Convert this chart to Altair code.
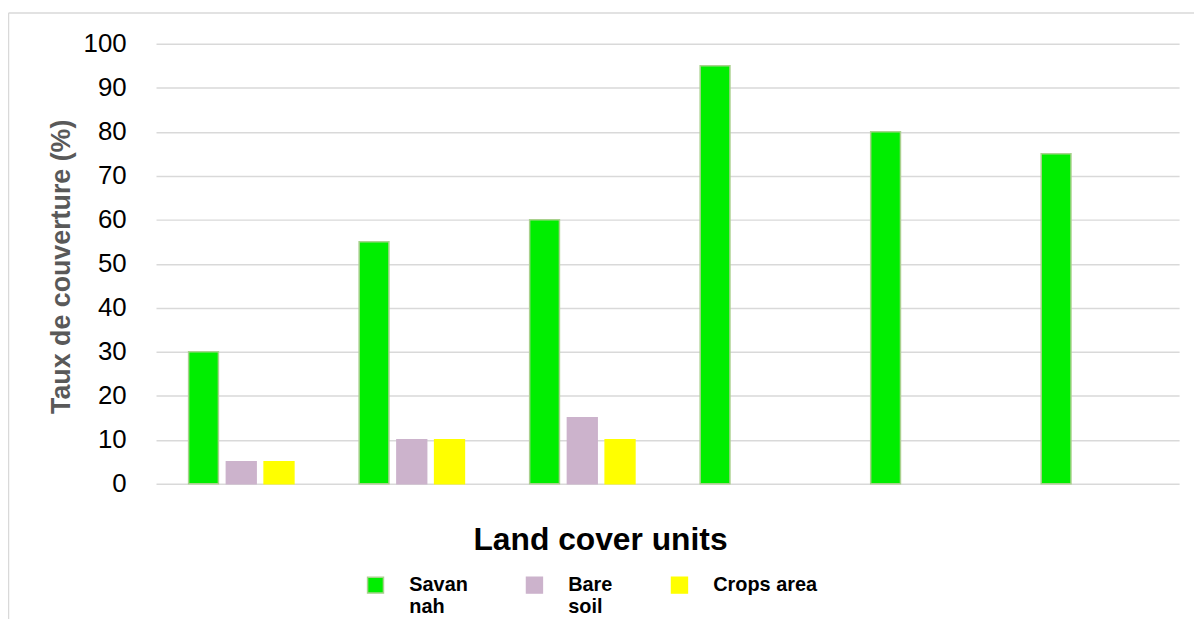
import altair as alt
import pandas as pd

units = ["Unit 1", "Unit 2", "Unit 3", "Unit 4", "Unit 5", "Unit 6"]
series = ["Savannah", "Bare soil", "Crops area"]
savannah = [30, 55, 60, 95, 80, 75]
bare_soil = [5, 10, 15, 0, 0, 0]
crops_area = [5, 10, 10, 0, 0, 0]
fill_colors = ["#00ee00", "#ccb3cc", "#ffff00"]
stroke_colors = ["#a9d18e", "#ccb3cc", "#ffff00"]
y_ticks = list(range(0, 101, 10))

rows = []
for s, vals in zip(series, [savannah, bare_soil, crops_area]):
    for u, v in zip(units, vals):
        if v > 0:
            rows.append({"unit": u, "series": s, "value": v})
df = pd.DataFrame(rows)

W, H = 1030, 443
PAD_L, PAD_T = 149, 34

legend = alt.Legend(
    orient="none", legendX=211, legendY=535, direction="horizontal", title=None,
    symbolType="square", symbolSize=256, symbolStrokeWidth=1.5,
    labelFont="Liberation Sans", labelFontSize=20, labelFontWeight="bold",
    labelColor="#000000", labelOffset=24, columnPadding=56, padding=0,
    labelBaseline="middle", labelLimit=300,
    labelExpr="datum.label == 'Savannah' ? ['Savan', 'nah'] : datum.label == 'Bare soil' ? ['Bare', 'soil'] : ['Crops area', ' ']",
)

bars = alt.Chart(df).mark_bar(strokeWidth=1.5).encode(
    x=alt.X(
        "unit:N", sort=units,
        scale=alt.Scale(domain=units, paddingInner=0.336, paddingOuter=0.168),
        axis=alt.Axis(
            labels=False, ticks=False, domain=False, grid=False,
            title="Land cover units", titleFont="Liberation Sans", titleFontSize=32,
            titleFontWeight="bold", titleColor="#000000", titleX=447, titleY=66,
            titleAlign="center", titleBaseline="alphabetic",
        ),
    ),
    xOffset=alt.XOffset(
        "series:N", sort=series,
        scale=alt.Scale(domain=series, paddingInner=0.2105, paddingOuter=0.105),
    ),
    y=alt.Y(
        "value:Q",
        scale=alt.Scale(domain=[0, 100], nice=False),
        axis=alt.Axis(
            values=y_ticks, grid=True, gridColor="#d9d9d9", gridWidth=1.5,
            domain=False, ticks=False, tickSize=0, labelPadding=30,
            labelFont="Liberation Sans", labelFontSize=26, labelColor="#000000",
            title="Taux de couverture (%)", titleFont="Liberation Sans",
            titleFontSize=27, titleFontWeight="bold", titleColor="#595959",
            titleX=-87, titleY=224, titleAlign="center", titleBaseline="alphabetic",
        ),
    ),
    color=alt.Color("series:N", sort=series,
                    scale=alt.Scale(domain=series, range=fill_colors), legend=legend),
    stroke=alt.Stroke("series:N", sort=series,
                      scale=alt.Scale(domain=series, range=stroke_colors), legend=legend),
)

frame_df = pd.DataFrame({"k": [0]})
frame_left = alt.Chart(frame_df).mark_rule(color="#d9d9d9", strokeWidth=1.5).encode(
    x=alt.value(-148.5), y=alt.value(-31), y2=alt.value(H + 200)
)
frame_top = alt.Chart(frame_df).mark_rule(color="#d9d9d9", strokeWidth=1.5).encode(
    x=alt.value(-148.5), x2=alt.value(W + 20), y=alt.value(-31)
)

chart = alt.layer(frame_left, frame_top, bars).properties(
    width=W, height=H,
    autosize=alt.AutoSizeParams(type="none"),
    padding={"left": PAD_L, "top": PAD_T, "right": 15, "bottom": 134},
    background="#ffffff",
).configure_view(strokeWidth=0)

chart.save("out.html", embed_options={"renderer": "svg", "actions": False})
